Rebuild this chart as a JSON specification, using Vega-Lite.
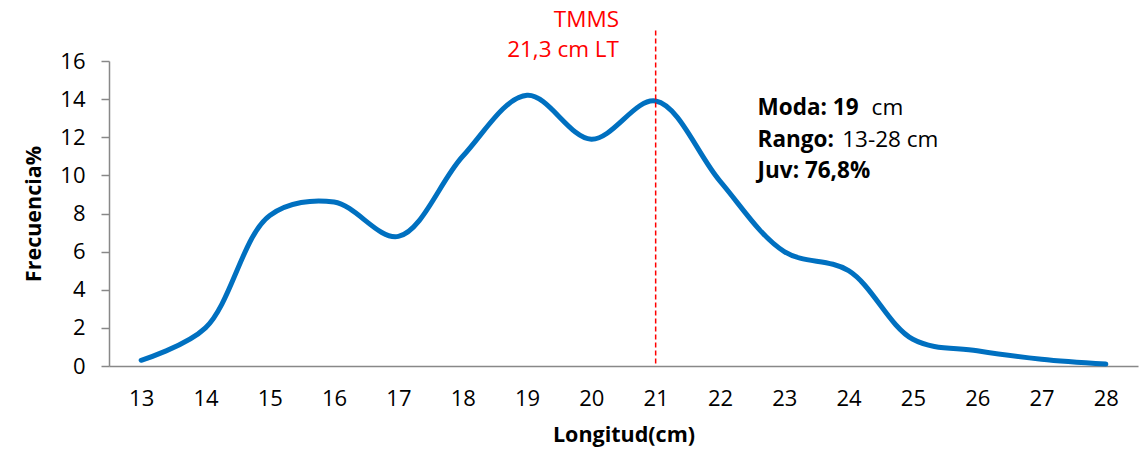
{
  "$schema": "https://vega.github.io/schema/vega-lite/v6.json",
  "width": 1029,
  "height": 305,
  "autosize": "none",
  "padding": {"left": 109, "top": 61, "right": 1, "bottom": 89},
  "background": "white",
  "config": {"view": {"stroke": null}, "font": "Open Sans"},
  "datasets": {
    "freq": [
      {"longitud": 13, "frecuencia": 0.3},
      {"longitud": 14, "frecuencia": 2.0},
      {"longitud": 15, "frecuencia": 7.9},
      {"longitud": 16, "frecuencia": 8.6},
      {"longitud": 17, "frecuencia": 6.8},
      {"longitud": 18, "frecuencia": 11.0},
      {"longitud": 19, "frecuencia": 14.2},
      {"longitud": 20, "frecuencia": 11.9},
      {"longitud": 21, "frecuencia": 13.9},
      {"longitud": 22, "frecuencia": 9.7},
      {"longitud": 23, "frecuencia": 6.0},
      {"longitud": 24, "frecuencia": 5.0},
      {"longitud": 25, "frecuencia": 1.4},
      {"longitud": 26, "frecuencia": 0.8},
      {"longitud": 27, "frecuencia": 0.35},
      {"longitud": 28, "frecuencia": 0.1}
    ],
    "tmms": [{"longitud": 21, "frecuencia": 17.6, "base": 0}],
    "red": [{"longitud": 20.43, "frecuencia": 17.8, "t": "TMMS"}, {"longitud": 20.43, "frecuencia": 16.2, "t": "21,3 cm LT"}],
    "bold": [
      {"longitud": 22.585, "frecuencia": 13.15, "t": "Moda: 19"},
      {"longitud": 22.585, "frecuencia": 11.5, "t": "Rango:"},
      {"longitud": 22.585, "frecuencia": 9.85, "t": "Juv: 76,8%"}
    ],
    "normal": [
      {"longitud": 24.358, "frecuencia": 13.15, "t": "cm"},
      {"longitud": 23.9, "frecuencia": 11.5, "t": "13-28 cm"}
    ]
  },
  "encoding": {
    "x": {
      "field": "longitud", "type": "quantitative",
      "scale": {"domain": [12.5, 28.5], "nice": false, "zero": false},
      "axis": {
        "values": [13,14,15,16,17,18,19,20,21,22,23,24,25,26,27,28], "format": "d",
        "title": "Longitud(cm)", "titleFontSize": 21.5, "titleFontWeight": "bold", "titleColor": "black", "titlePadding": 15,
        "labelFontSize": 22, "labelColor": "black", "labelPadding": 22, "ticks": false, "labelOverlap": false,
        "domainColor": "#888888", "domainWidth": 1.5, "grid": false, "labelFlush": false
      }
    },
    "y": {
      "field": "frecuencia", "type": "quantitative",
      "scale": {"domain": [0, 16], "nice": false},
      "axis": {
        "values": [0,2,4,6,8,10,12,14,16], "format": "d",
        "title": "Frecuencia%", "titleFontSize": 21.5, "titleFontWeight": "bold", "titleColor": "black", "titlePadding": 14,
        "labelFontSize": 22, "labelColor": "black", "labelPadding": 16, "tickSize": 8, "tickColor": "#888888", "tickWidth": 1.5, "labelOverlap": false,
        "domainColor": "#888888", "domainWidth": 1.5, "grid": false
      }
    }
  },
  "layer": [
    {
      "data": {"name": "freq"},
      "mark": {"type": "line", "interpolate": "catmull-rom", "color": "#0070C0", "strokeWidth": 5, "strokeCap": "round"}
    },
    {
      "data": {"name": "tmms"},
      "mark": {"type": "rule", "color": "#FF0000", "strokeWidth": 1.5, "strokeDash": [5, 3]},
      "encoding": {"y2": {"field": "base"}}
    },
    {
      "data": {"name": "red"},
      "mark": {"type": "text", "align": "right", "baseline": "alphabetic", "color": "#FF0000", "fontSize": 22.5},
      "encoding": {"text": {"field": "t"}}
    },
    {
      "data": {"name": "bold"},
      "mark": {"type": "text", "align": "left", "baseline": "alphabetic", "color": "black", "fontSize": 22.5, "fontWeight": "bold"},
      "encoding": {"text": {"field": "t"}}
    },
    {
      "data": {"name": "normal"},
      "mark": {"type": "text", "align": "left", "baseline": "alphabetic", "color": "black", "fontSize": 22.5},
      "encoding": {"text": {"field": "t"}}
    }
  ]
}
